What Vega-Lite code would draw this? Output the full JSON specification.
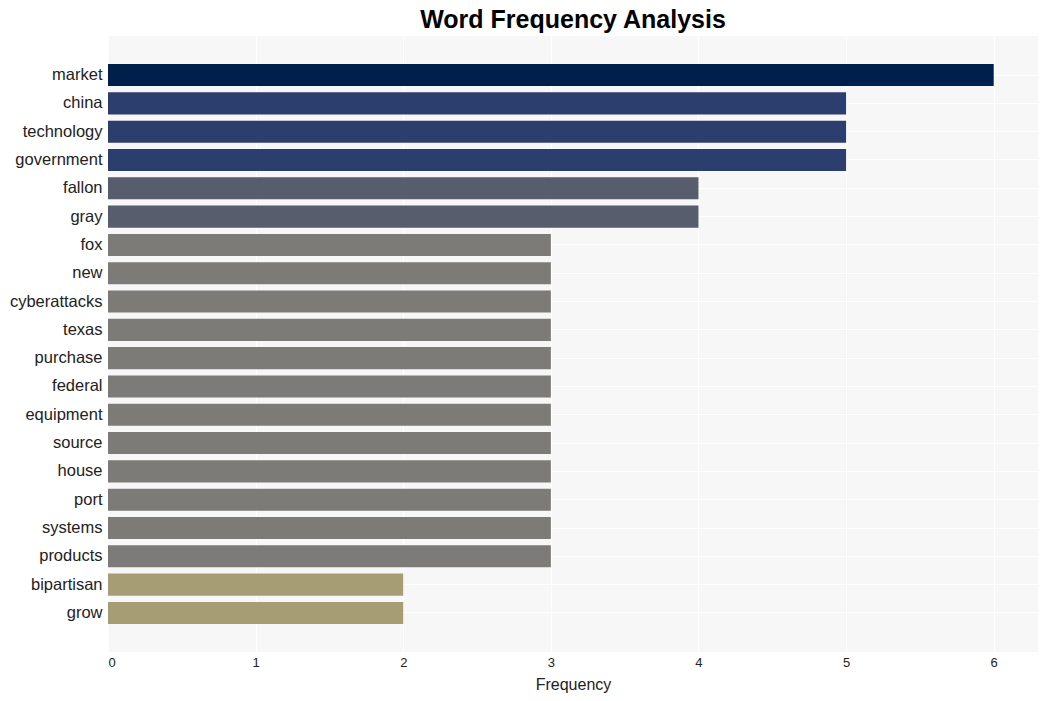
{
  "$schema": "https://vega.github.io/schema/vega-lite/v6.json",
  "autosize": {"type": "none"},
  "width": 930,
  "height": 616,
  "padding": {"left": 108, "top": 36, "right": 10, "bottom": 49},
  "background": "white",
  "title": {"text": "Word Frequency Analysis", "fontSize": 25, "font": "Liberation Sans", "fontWeight": "bold", "color": "#000000", "anchor": "middle", "frame": "group", "offset": 3},
  "config": {
    "view": {"fill": "#f7f7f7", "stroke": null},
    "axis": {"labelFont": "Liberation Sans", "titleFont": "Liberation Sans", "domain": false, "ticks": false, "gridColor": "#ffffff", "gridWidth": 1}
  },
  "data": {"values": [
    {"word": "market", "freq": 6},
    {"word": "china", "freq": 5},
    {"word": "technology", "freq": 5},
    {"word": "government", "freq": 5},
    {"word": "fallon", "freq": 4},
    {"word": "gray", "freq": 4},
    {"word": "fox", "freq": 3},
    {"word": "new", "freq": 3},
    {"word": "cyberattacks", "freq": 3},
    {"word": "texas", "freq": 3},
    {"word": "purchase", "freq": 3},
    {"word": "federal", "freq": 3},
    {"word": "equipment", "freq": 3},
    {"word": "source", "freq": 3},
    {"word": "house", "freq": 3},
    {"word": "port", "freq": 3},
    {"word": "systems", "freq": 3},
    {"word": "products", "freq": 3},
    {"word": "bipartisan", "freq": 2},
    {"word": "grow", "freq": 2}
  ]},
  "mark": {"type": "bar"},
  "encoding": {
    "y": {
      "field": "word", "type": "nominal",
      "sort": ["market","china","technology","government","fallon","gray","fox","new","cyberattacks","texas","purchase","federal","equipment","source","house","port","systems","products","bipartisan","grow"],
      "scale": {"paddingInner": 0.22, "paddingOuter": 0.99},
      "axis": {"title": null, "labelFontSize": 16.5, "labelColor": "#222222", "labelPadding": 6, "grid": true, "gridColor": "#ffffff"}
    },
    "x": {
      "field": "freq", "type": "quantitative",
      "scale": {"domain": [0, 6.3], "nice": false},
      "axis": {"title": "Frequency", "titleFontSize": 16, "titleFontWeight": "normal", "titleColor": "#222222", "titlePadding": 7, "labelFontSize": 13, "labelColor": "#222222", "labelPadding": 4, "values": [0,1,2,3,4,5,6], "grid": true}
    },
    "color": {
      "field": "freq", "type": "ordinal",
      "scale": {"domain": [2,3,4,5,6], "range": ["#a69d75", "#7c7b78", "#575d6d", "#2c3e6e", "#00204c"]},
      "legend": null
    }
  }
}
